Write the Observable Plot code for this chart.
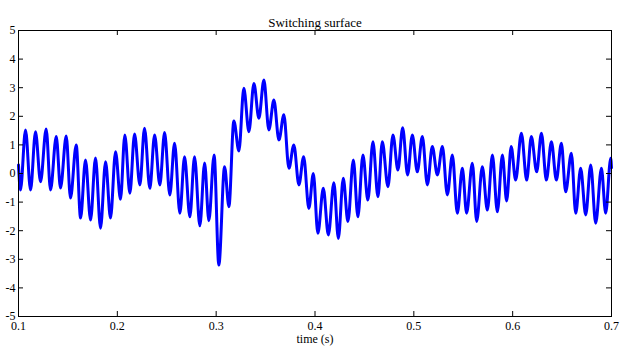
<!DOCTYPE html>
<html>
<head>
<meta charset="utf-8">
<script src="https://cdn.jsdelivr.net/npm/d3@7"></script>
<script src="https://cdn.jsdelivr.net/npm/@observablehq/plot@0.6"></script>
<style>
  body { margin: 0; background: #fff; }
  #chart svg { display: block; }
</style>
</head>
<body>
<div id="chart"></div>
<script>
// Time stamps (s) of the local extremes of the switching-surface signal
const times = [
  0.1000, 0.1020, 0.1071, 0.1122, 0.1172, 0.1223, 0.1280, 0.1324, 0.1382, 0.1425,
  0.1483, 0.1526, 0.1584, 0.1628, 0.1678, 0.1729, 0.1779, 0.1830, 0.1881, 0.1931,
  0.1982, 0.2032, 0.2076, 0.2127, 0.2174, 0.2228, 0.2275, 0.2329, 0.2377, 0.2430,
  0.2478, 0.2531, 0.2579, 0.2633, 0.2680, 0.2734, 0.2781, 0.2835, 0.2883, 0.2926,
  0.2979, 0.3027, 0.3085, 0.3129, 0.3179, 0.3230, 0.3280, 0.3331, 0.3382, 0.3432,
  0.3483, 0.3533, 0.3584, 0.3635, 0.3685, 0.3736, 0.3786, 0.3837, 0.3885, 0.3938,
  0.3983, 0.4029, 0.4084, 0.4135, 0.4191, 0.4236, 0.4286, 0.4333, 0.4388, 0.4434,
  0.4485, 0.4535, 0.4586, 0.4637, 0.4681, 0.4738, 0.4789, 0.4839, 0.4887, 0.4937,
  0.4985, 0.5035, 0.5086, 0.5137, 0.5187, 0.5238, 0.5289, 0.5339, 0.5390, 0.5440,
  0.5491, 0.5534, 0.5592, 0.5636, 0.5693, 0.5744, 0.5795, 0.5845, 0.5896, 0.5939,
  0.5985, 0.6030, 0.6088, 0.6142, 0.6189, 0.6243, 0.6291, 0.6341, 0.6392, 0.6442,
  0.6493, 0.6536, 0.6594, 0.6638, 0.6688, 0.6739, 0.6790, 0.6840, 0.6898, 0.6941,
  0.6992, 0.7000
];
// Signal values at those times
const values = [
   0.30, -0.58,  1.52, -0.58,  1.46, -0.29,  1.56, -0.58,  1.29, -0.51,
   1.31, -0.86,  1.00, -1.56,  0.47, -1.63,  0.54, -1.91,  0.41, -1.56,
   0.76, -0.90,  1.35, -0.69,  1.38, -0.40,  1.58, -0.52,  1.35, -0.40,
   1.43, -0.75,  1.06, -1.39,  0.59, -1.51,  0.59, -1.83,  0.37, -1.65,
   0.65, -3.20,  0.24, -1.16,  1.84,  0.79,  2.98,  1.46,  3.15,  1.93,
   3.27,  1.52,  2.57,  1.17,  2.05,  0.18,  1.00, -0.40,  0.59, -1.22,
   0.00, -2.09, -0.52, -2.15, -0.32, -2.27, -0.17, -1.68,  0.47, -1.51,
   0.65, -0.93,  1.11, -0.81,  1.11, -0.46,  1.35,  0.12,  1.60, -0.05,
   1.35,  0.06,  1.29, -0.40,  0.94, -0.05,  0.94, -0.75,  0.65, -1.39,
   0.18, -1.39,  0.36, -1.68,  0.24, -1.28,  0.65, -1.34,  0.65, -0.96,
   0.94, -0.23,  1.41, -0.23,  1.29,  0.06,  1.41, -0.23,  1.11, -0.23,
   1.06, -0.64,  0.71, -1.39,  0.18, -1.45,  0.30, -1.74,  0.18, -1.39,
   0.53,  0.20
];
const xTicks = [0.1, 0.2, 0.3, 0.4, 0.5, 0.6, 0.7];
const yTicks = [-5, -4, -3, -2, -1, 0, 1, 2, 3, 4, 5];
const titleText = "Switching surface";
const xLabel = "time (s)";

const data = times.map((t, i) => ({t, v: values[i]}));

const W = 620, H = 350, mL = 18, mR = 9, mT = 30, mB = 34;
const fw = W - mL - mR, fh = H - mT - mB, tick = 5;

const chart = Plot.plot({
  width: W, height: H,
  marginLeft: mL, marginRight: mR, marginTop: mT, marginBottom: mB,
  x: {domain: [0.1, 0.7], label: null},
  y: {domain: [-5, 5], label: null},
  style: {fontFamily: "'Liberation Serif', 'Times New Roman', serif", fontSize: "12px", background: "#fff", color: "#000"},
  marks: [
    Plot.line(data, {x: "t", y: "v", stroke: "#0000ff", strokeWidth: 3, curve: "monotone-x"}),
    Plot.axisX(xTicks, {tickSize: 0, tickPadding: 5, tickFormat: d => d.toFixed(1), fontSize: 12}),
    Plot.axisY(yTicks, {tickSize: 0, tickPadding: 3, tickFormat: d => String(d), fontSize: 12}),
    Plot.tickX(xTicks, {x: d => d, insetTop: fh - tick, stroke: "#000"}),
    Plot.tickX(xTicks, {x: d => d, insetBottom: fh - tick, stroke: "#000"}),
    Plot.tickY(yTicks, {y: d => d, insetRight: fw - tick, stroke: "#000"}),
    Plot.tickY(yTicks, {y: d => d, insetLeft: fw - tick, stroke: "#000"}),
    Plot.frame({stroke: "#000"}),
    Plot.text([titleText], {frameAnchor: "top", dy: -13, fontSize: 13}),
    Plot.text([xLabel], {frameAnchor: "bottom", dy: 26, fontSize: 12})
  ]
});
document.getElementById("chart").appendChild(chart);
</script>
</body>
</html>
